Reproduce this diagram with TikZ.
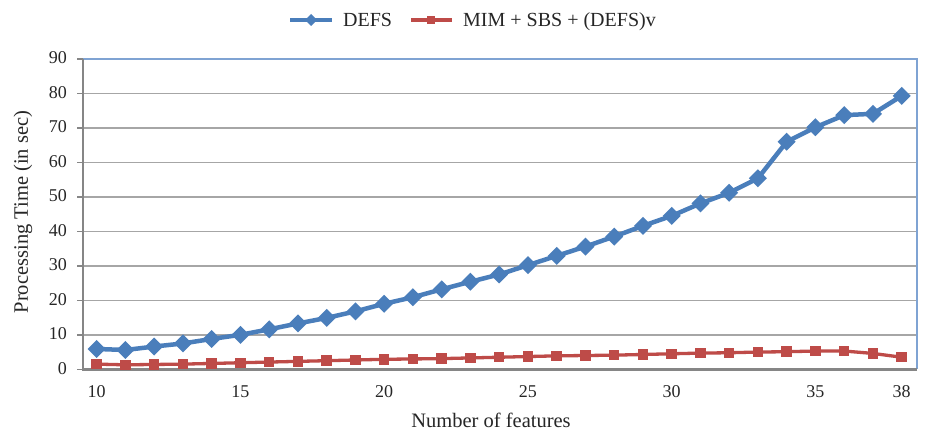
\documentclass[tikz,border=0pt]{standalone}
\usepackage{fontspec}
\setmainfont{Liberation Serif}
\usetikzlibrary{shapes.geometric}
\definecolor{defsblue}{HTML}{4A7EBB}
\definecolor{mimred}{HTML}{BE4B48}
\definecolor{gridgray}{HTML}{A6A6A6}
\definecolor{axisgray}{HTML}{868686}
\definecolor{bordblue}{HTML}{7FA3D3}
\begin{document}
\begin{tikzpicture}[x=1pt,y=-1pt,
  gridln/.style={draw=gridgray, line width=1.5pt},
  axisln/.style={draw=axisgray, line width=2.4pt},
  bordln/.style={draw=bordblue, line width=1.2pt},
  ticklbl/.style={font=\fontsize{18}{18}\selectfont, inner sep=0pt, text=black!85},
  titlelbl/.style={font=\fontsize{20.5}{20.5}\selectfont, inner sep=0pt, text=black!85},
  legendlbl/.style={font=\fontsize{20}{20}\selectfont, inner sep=0pt, text=black!85},
  bline/.style={draw=defsblue, line width=4.5pt, line join=round},
  rline/.style={draw=mimred, line width=3.3pt, line join=round},
  bmark/.style={shape=diamond, fill=defsblue, inner sep=0pt, outer sep=0pt, minimum width=18pt, minimum height=18pt},
  rmark/.style={shape=rectangle, fill=mimred, inner sep=0pt, outer sep=0pt, minimum size=10.5pt},
  lbmark/.style={shape=diamond, fill=defsblue, inner sep=0pt, outer sep=0pt, minimum width=12pt, minimum height=12pt},
  lrmark/.style={shape=rectangle, fill=mimred, inner sep=0pt, outer sep=0pt, minimum size=8pt}]
\fill[white] (0,0) rectangle (925,435);
\useasboundingbox (0,0) rectangle (925,435);
% corners of plot area
\coordinate (tl) at (83,59);
\coordinate (tr) at (917,59);
\coordinate (bl) at (83,369.3);
\coordinate (br) at (917,369.3);
% gridlines and y ticks
\foreach \k in {1,...,8} {
  \coordinate (gl\k) at (83,{369.3-\k*34.48});
  \coordinate (gr\k) at (917,{369.3-\k*34.48});
  \draw[gridln] (gl\k) -- (gr\k);
}
\draw[bordln] (tl) -- (tr) -- (br);
\foreach \k in {0,...,9} {
  \coordinate (tk\k) at (77,{369.3-\k*34.48});
  \coordinate (ta\k) at (83,{369.3-\k*34.48});
  \draw[axisgray, line width=1.5pt] (tk\k) -- (ta\k);
  \pgfmathtruncatemacro{\lab}{\k*10}
  \node[ticklbl, anchor=east] (yl\k) at (67,{368.3-\k*34.48}) {\lab};
}
\draw[axisln] (tl) -- (bl) -- (br);
% x labels
\foreach \i in {10,15,20,25,30,35,38} {
  \node[ticklbl, anchor=base] (xl\i) at ({96.7+(\i-10)*28.75},397) {\i};
}
% axis titles
\node[titlelbl, anchor=base] (xtitle) at (491,427) {Number of features};
\node[titlelbl, rotate=90] (ytitle) at (23,212) {Processing Time (in sec)};
% data
\foreach \v [count=\i from 10] in {5.9,5.6,6.6,7.5,8.8,10.0,11.6,13.3,14.9,16.8,19.0,20.9,23.2,25.4,27.5,30.2,32.9,35.6,38.5,41.6,44.5,48.1,51.2,55.4,66.0,70.2,73.7,74.1,79.3} {
  \coordinate (b\i) at ({96.7+(\i-10)*28.75},{369.3-\v*3.448});
}
\foreach \v [count=\i from 10] in {1.5,1.3,1.4,1.5,1.7,1.9,2.1,2.3,2.5,2.7,2.9,3.0,3.1,3.3,3.5,3.7,3.9,4.0,4.1,4.3,4.5,4.7,4.8,5.0,5.1,5.3,5.3,4.6,3.5} {
  \coordinate (r\i) at ({96.7+(\i-10)*28.75},{369.3-\v*3.448});
}
\draw[rline] (r10) \foreach \i in {11,...,38} { -- (r\i) };
\foreach \i in {10,...,38} { \node[rmark] (rm\i) at (r\i) {}; }
\draw[bline] (b10) \foreach \i in {11,...,38} { -- (b\i) };
\foreach \i in {10,...,38} { \node[bmark] (bm\i) at (b\i) {}; }
% legend
\coordinate (lb1) at (290,20);
\coordinate (lb2) at (332,20);
\draw[bline] (lb1) -- (lb2);
\node[lbmark] (lbm) at (311,20) {};
\node[legendlbl, anchor=base west] (lbt) at (343,26.5) {DEFS};
\coordinate (lr1) at (411,20);
\coordinate (lr2) at (452,20);
\draw[rline, line width=4pt] (lr1) -- (lr2);
\node[lrmark] (lrm) at (431,20) {};
\node[legendlbl, anchor=base west] (lrt) at (463,26.5) {MIM + SBS + (DEFS)v};
\end{tikzpicture}
\end{document}
